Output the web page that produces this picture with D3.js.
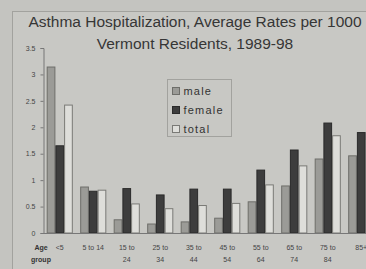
<!DOCTYPE html>
<html>
<head>
<meta charset="utf-8">
<script src="https://cdn.jsdelivr.net/npm/d3@7"></script>
<style>
  body { margin: 0; background: #c4c4c0; overflow: hidden; }
  text { font-family: "Liberation Sans", Arial, sans-serif; }
</style>
</head>
<body>
<script>
// age groups, rates per 1000
var ageGroups = ['<5', '5 to 14', '15 to 24', '25 to 34', '35 to 44',
                 '45 to 54', '55 to 64', '65 to 74', '75 to 84', '85+'];
var ageLines = [['<5'], ['5 to 14'], ['15 to', '24'], ['25 to', '34'], ['35 to', '44'],
                ['45 to', '54'], ['55 to', '64'], ['65 to', '74'], ['75 to', '84'], ['85+']];
var male   = [3.14, 0.87, 0.25, 0.17, 0.21, 0.28, 0.59, 0.89, 1.40, 1.46];
var female = [1.65, 0.79, 0.84, 0.72, 0.83, 0.83, 1.19, 1.57, 2.08, 1.90];
var total  = [2.42, 0.81, 0.55, 0.46, 0.52, 0.56, 0.91, 1.27, 1.84, 1.75];
var seriesNames = ['male', 'female', 'total'];
var yTicks = [0, 0.5, 1, 1.5, 2, 2.5, 3, 3.5];

var width = 366;
var height = 269;

var fills = { male: '#9b9b97', female: '#3d3d3d', total: '#dededa' };
var strokes = { male: '#6e6e6a', female: '#2a2a2a', total: '#7a7a76' };

var svg = d3.select('body').append('svg')
  .attr('width', width)
  .attr('height', height);

// chart area frame
svg.append('rect')
  .attr('x', 12.5).attr('y', 11.5)
  .attr('width', 400).attr('height', 300)
  .attr('fill', '#c8c8c4')
  .attr('stroke', '#a2a29e');

// title
svg.append('text')
  .attr('x', 195).attr('y', 27)
  .attr('text-anchor', 'middle')
  .attr('font-size', 15.5)
  .attr('fill', '#363636')
  .text('Asthma Hospitalization, Average Rates per 1000');
svg.append('text')
  .attr('x', 195).attr('y', 49)
  .attr('text-anchor', 'middle')
  .attr('font-size', 15.5)
  .attr('fill', '#363636')
  .text('Vermont Residents, 1989-98');

var x = d3.scaleBand()
  .domain(ageGroups)
  .range([43, 378])
  .paddingInner(0.22)
  .paddingOuter(0.11);

var xs = d3.scaleBand()
  .domain(seriesNames)
  .range([0, x.bandwidth()]);

var y = d3.scaleLinear()
  .domain([0, 3.5])
  .range([233, 48]);

var rows = ageGroups.map(function(g, i) {
  return { group: g, male: male[i], female: female[i], total: total[i] };
});

// y axis
var yAxis = svg.append('g')
  .attr('transform', 'translate(43.5,0)')
  .call(d3.axisLeft(y).tickValues(yTicks).tickSize(3).tickFormat(d3.format('')));
yAxis.select('.domain').attr('stroke', '#777');
yAxis.selectAll('.tick line').attr('stroke', '#777');
yAxis.selectAll('.tick text')
  .attr('font-size', 7)
  .attr('fill', '#444')
  .attr('x', -8)
  .attr('font-family', '"Liberation Sans", Arial, sans-serif');

// bars
var groups = svg.selectAll('g.grp')
  .data(rows)
  .enter().append('g')
  .attr('class', 'grp')
  .attr('transform', function(d) { return 'translate(' + x(d.group) + ',0)'; });

groups.selectAll('rect')
  .data(function(d) { return seriesNames.map(function(s) { return { s: s, v: d[s] }; }); })
  .enter().append('rect')
  .attr('x', function(d) { return xs(d.s) + 0.5; })
  .attr('y', function(d) { return y(d.v); })
  .attr('width', xs.bandwidth() - 1)
  .attr('height', function(d) { return y(0) - y(d.v); })
  .attr('fill', function(d) { return fills[d.s]; })
  .attr('stroke', function(d) { return strokes[d.s]; })
  .attr('stroke-width', 1);

// baseline
svg.append('line')
  .attr('x1', 43).attr('x2', width)
  .attr('y1', y(0) + 0.5).attr('y2', y(0) + 0.5)
  .attr('stroke', '#777');

// x labels
var xl = svg.selectAll('text.xl')
  .data(ageLines)
  .enter().append('text')
  .attr('class', 'xl')
  .attr('text-anchor', 'middle')
  .attr('font-size', 7)
  .attr('fill', '#444')
  .attr('x', function(d, i) { return x(ageGroups[i]) + x.bandwidth() / 2; })
  .attr('y', 250);
xl.selectAll('tspan')
  .data(function(d) { return d; })
  .enter().append('tspan')
  .attr('x', function() { return d3.select(this.parentNode).attr('x'); })
  .attr('dy', function(d, i) { return i ? 12 : 0; })
  .text(function(d) { return d; });

svg.append('text')
  .attr('x', 41).attr('y', 250)
  .attr('text-anchor', 'middle')
  .attr('font-size', 7)
  .attr('font-weight', 'bold')
  .attr('fill', '#333')
  .text('Age');
svg.append('text')
  .attr('x', 41).attr('y', 262)
  .attr('text-anchor', 'middle')
  .attr('font-size', 7)
  .attr('font-weight', 'bold')
  .attr('fill', '#333')
  .text('group');

// legend
var legend = svg.append('g').attr('transform', 'translate(167.5,79.5)');
legend.append('rect')
  .attr('width', 64).attr('height', 57)
  .attr('fill', 'none')
  .attr('stroke', '#a2a29e');
var li = legend.selectAll('g.li')
  .data(seriesNames)
  .enter().append('g')
  .attr('class', 'li')
  .attr('transform', function(d, i) { return 'translate(5,' + (8 + i * 19) + ')'; });
li.append('rect')
  .attr('width', 7).attr('height', 7)
  .attr('fill', function(d) { return fills[d]; })
  .attr('stroke', function(d) { return strokes[d]; });
li.append('text')
  .attr('x', 11).attr('y', 7.5)
  .attr('font-size', 11)
  .attr('letter-spacing', 1.2)
  .attr('fill', '#333')
  .text(function(d) { return d; });
</script>
</body>
</html>
